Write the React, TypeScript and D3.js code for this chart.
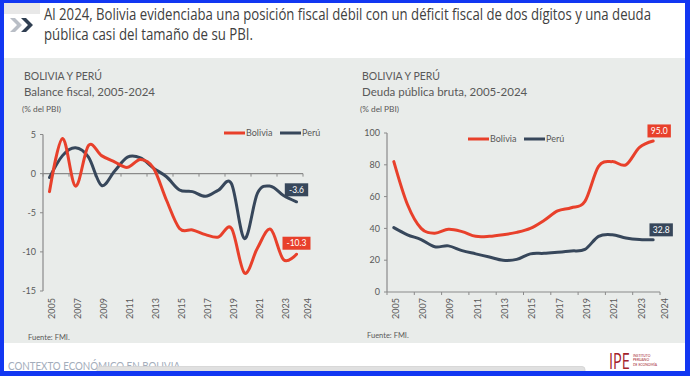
import React from "react";
import * as d3 from "d3";

const years = [2005, 2006, 2007, 2008, 2009, 2010, 2011, 2012, 2013, 2014, 2015, 2016, 2017, 2018, 2019, 2020, 2021, 2022, 2023, 2024];
const yearLabels = ["2005", "2007", "2009", "2011", "2013", "2015", "2017", "2019", "2021", "2023", "2024"];

const balanceBolivia = [-2.3, 4.5, -1.6, 3.6, 2.3, 1.5, 0.8, 1.8, 0.7, -3.4, -7.0, -7.2, -7.8, -8.1, -7.0, -12.7, -9.5, -7.1, -11.0, -10.3];
const balancePeru = [-0.5, 2.3, 3.3, 2.1, -1.5, 0.3, 2.1, 2.0, 0.7, -0.4, -2.1, -2.3, -2.9, -2.1, -1.3, -8.3, -2.5, -1.6, -2.8, -3.6];

const debtBolivia = [82, 55, 40, 37, 39.5, 38, 35, 35, 36, 37.5, 40, 45, 51, 53, 57, 79, 82, 80, 91, 95.0];
const debtPeru = [40.5, 36, 33, 28.5, 29, 26, 24, 22, 20, 20.5, 24, 24.3, 25, 25.8, 26.8, 35, 36, 34, 33, 32.8];

const balanceTicks = [5, 0, -5, -10, -15];
const debtTicks = [100, 80, 60, 40, 20, 0];

const seriesNames = ["Bolivia", "Perú"];
const titleLines = [
  "Al 2024, Bolivia evidenciaba una posición fiscal débil con un déficit fiscal de dos dígitos y una deuda",
  "pública casi del tamaño de su PBI.",
];
const logoLines = ["INSTITUTO", "PERUANO", "DE ECONOMÍA"];

const RED = "#e8402b";
const NAVY = "#37475b";
const TXT = "#595959";
const AXIS = "#8a8a8a";
const FONT = "Lato, 'Open Sans', sans-serif";
const NARROW = "'Liberation Sans Narrow', 'Open Sans', sans-serif";

type ChartProps = {
  x0: number;
  x1: number;
  yDomain: [number, number];
  yRange: [number, number];
  ticks: number[];
  bolivia: number[];
  peru: number[];
  labelY: number;
  title: string;
  titleX: number;
  legendX: number;
  legendY: number;
  fuenteX: number;
  fuenteY: number;
  boxOffsets: [number, number, number, number];
};

function Chart(p: ChartProps) {
  const x = d3.scaleBand<number>().domain(years).range([p.x0, p.x1]).padding(0);
  const bw = x.bandwidth();
  const cx = (yr: number) => (x(yr) as number) + bw / 2;
  const y = d3.scaleLinear().domain(p.yDomain).range(p.yRange);
  const line = d3
    .line<number>()
    .x((_, i) => cx(years[i]))
    .y((d) => y(d))
    .curve(d3.curveCardinal.tension(0));
  const axisY = y(0);
  const yTop = y(p.yDomain[1]);
  const yBot = y(p.yDomain[0]);
  const tickXs = d3.range(0, years.length + 1, 2).map((i) => p.x0 + i * bw);
  const lastYear = years[years.length - 1];
  const lastB = p.bolivia[p.bolivia.length - 1];
  const lastP = p.peru[p.peru.length - 1];
  const box = (v: number, color: string, dx: number, dy: number, key: string) => {
    const t = v.toFixed(1);
    const w = t.length * 4.6 + 5;
    const bx = cx(lastYear) + dx;
    const by = y(v) + dy;
    return (
      <g key={key}>
        <rect x={bx - w / 2} y={by - 6.5} width={w} height={13} fill={color} />
        <text x={bx} y={by + 3} textAnchor="middle" fontSize={8.5} fill="#ffffff" fontFamily={FONT}>
          {t}
        </text>
      </g>
    );
  };
  return (
    <g>
      <text x={p.titleX} y={80} fontSize={10.5} fill={TXT} fontFamily={FONT}>BOLIVIA Y PERÚ</text>
      <text x={p.titleX} y={96} fontSize={11.5} fill={TXT} fontFamily={FONT}>{p.title}</text>
      <text x={p.titleX - 2} y={112} fontSize={8.3} fill={TXT} fontFamily={FONT}>(% del PBI)</text>
      <line x1={p.x0} x2={p.x0} y1={yTop} y2={yBot} stroke={AXIS} strokeWidth={1.2} />
      {p.ticks.map((t) => (
        <g key={t}>
          <line x1={p.x0 - 3} x2={p.x0} y1={y(t)} y2={y(t)} stroke={AXIS} strokeWidth={1} />
          <text x={p.x0 - 7} y={y(t) + 3.2} textAnchor="end" fontSize={9} fill={TXT} fontFamily={FONT}>
            {t}
          </text>
        </g>
      ))}
      <line x1={p.x0} x2={p.x1} y1={axisY} y2={axisY} stroke={AXIS} strokeWidth={1.2} />
      {tickXs.map((tx, i) => (
        <line key={i} x1={tx} x2={tx} y1={axisY} y2={axisY + 3} stroke={AXIS} strokeWidth={1} />
      ))}
      {yearLabels.map((lab) => {
        const yr = +lab;
        const lx = yr === lastYear ? p.x1 + 5 : cx(yr) + 2;
        return (
          <text
            key={lab}
            transform={`translate(${lx + 3},${p.labelY}) rotate(-90)`}
            textAnchor="end"
            fontSize={9}
            fill={TXT}
            fontFamily={FONT}
          >
            {lab}
          </text>
        );
      })}
      <line x1={p.legendX} x2={p.legendX + 21} y1={p.legendY} y2={p.legendY} stroke={RED} strokeWidth={3} />
      <text x={p.legendX + 22} y={p.legendY + 3} fontSize={9} fill={TXT} fontFamily={FONT}>{seriesNames[0]}</text>
      <line x1={p.legendX + 56} x2={p.legendX + 77} y1={p.legendY} y2={p.legendY} stroke={NAVY} strokeWidth={3} />
      <text x={p.legendX + 78} y={p.legendY + 3} fontSize={9} fill={TXT} fontFamily={FONT}>{seriesNames[1]}</text>
      <path d={line(p.peru) || ""} fill="none" stroke={NAVY} strokeWidth={3} strokeLinecap="round" />
      <path d={line(p.bolivia) || ""} fill="none" stroke={RED} strokeWidth={3} strokeLinecap="round" />
      {box(lastB, RED, p.boxOffsets[0], p.boxOffsets[1], "b")}
      {box(lastP, NAVY, p.boxOffsets[2], p.boxOffsets[3], "p")}
      <text x={p.fuenteX} y={p.fuenteY} fontSize={7.5} fill={TXT} fontFamily={FONT}>Fuente: FMI.</text>
    </g>
  );
}

export default function App() {
  const chev = (x0: number) =>
    `${x0},18 ${x0 + 5},18 ${x0 + 12},25 ${x0 + 5},32 ${x0},32 ${x0 + 7},25`;
  return (
    <div style={{ position: "absolute", left: 0, top: 0 }}>
      <svg width={690} height={376} viewBox="0 0 690 376" style={{ display: "block" }}>
        <rect x={0} y={0} width={690} height={376} fill="#ffffff" />
        <rect x={4} y={3} width={36} height={11} fill="#e8e8e8" />
        <polygon points={chev(10)} fill="#b9bec6" />
        <polygon points={chev(21)} fill="#2f3e51" />
        <text transform="translate(44,20) scale(1,1.1)" fontSize={15} fill="#404040" fontFamily={NARROW} textLength={607} lengthAdjust="spacingAndGlyphs">
          {titleLines[0]}
        </text>
        <text transform="translate(44,40) scale(1,1.1)" fontSize={15} fill="#404040" fontFamily={NARROW} textLength={209} lengthAdjust="spacingAndGlyphs">
          {titleLines[1]}
        </text>
        <rect x={4} y={58} width={682} height={285} fill="#e9ecea" />
        <Chart
          x0={43}
          x1={303}
          yDomain={[-15, 5]}
          yRange={[291, 134.5]}
          ticks={balanceTicks}
          bolivia={balanceBolivia}
          peru={balancePeru}
          labelY={298}
          title="Balance fiscal, 2005-2024"
          titleX={24}
          legendX={224}
          legendY={133}
          fuenteX={28}
          fuenteY={340}
          boxOffsets={[0, -11, 0, -12]}
        />
        <Chart
          x0={387}
          x1={660}
          yDomain={[0, 100]}
          yRange={[292, 133]}
          ticks={debtTicks}
          bolivia={debtBolivia}
          peru={debtPeru}
          labelY={298}
          title="Deuda pública bruta, 2005-2024"
          titleX={362}
          legendX={468}
          legendY={139}
          fuenteX={367}
          fuenteY={338}
          boxOffsets={[6, -10, 8, -10]}
        />
        <text x={8} y={370} fontSize={12} fill="#a3adbb" fontFamily={FONT} textLength={172} lengthAdjust="spacingAndGlyphs">
          CONTEXTO ECONÓMICO EN BOLIVIA
        </text>
        <rect x={97} y={366.5} width={488} height={8} rx={3} fill="#e0e0e0" stroke="#d2d2d2" strokeWidth={0.8} />
        <text x={609} y={369} fontSize={21} fill="#a3222b" fontFamily={NARROW} textLength={21} lengthAdjust="spacingAndGlyphs">
          IPE
        </text>
        {logoLines.map((t, i) => (
          <text key={t} x={633} y={356.5 + i * 4.7} fontSize={3.4} fill="#a3222b" fontFamily={FONT}>
            {t}
          </text>
        ))}
        <rect x={0} y={0} width={690} height={3} fill="#1237f2" />
        <rect x={0} y={0} width={4} height={376} fill="#1237f2" />
        <rect x={685} y={0} width={5} height={376} fill="#1237f2" />
        <rect x={0} y={371} width={690} height={5} fill="#1237f2" />
      </svg>
    </div>
  );
}
